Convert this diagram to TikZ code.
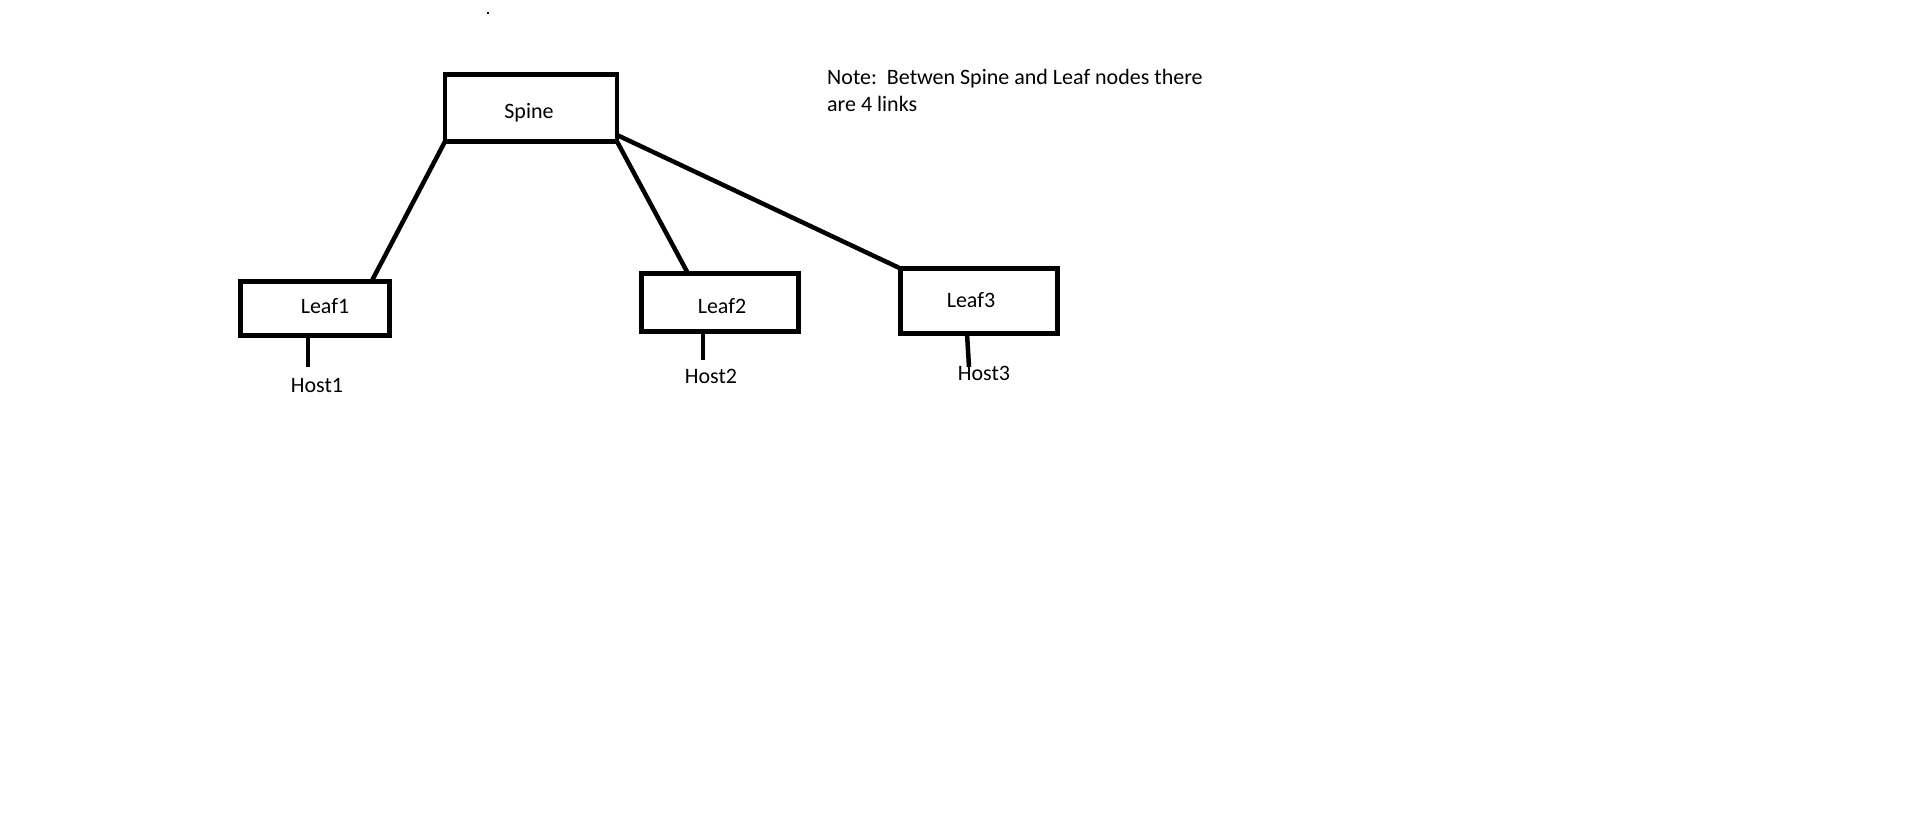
\documentclass[tikz,border=0pt]{standalone}
\usepackage{fontspec}
\setmainfont{Carlito}
\begin{document}
\begin{tikzpicture}[x=1pt,y=-1pt,
  box/.style={draw,line width=4.5pt,rectangle,inner sep=0pt,outer sep=0pt},
  link/.style={line width=4.5pt},
  lbl/.style={inner sep=0pt,font=\fontsize{22pt}{27pt}\selectfont}]
\useasboundingbox (0,0) rectangle (1913,821);
\fill[white] (0,0) rectangle (1913,821);
% boxes
\node[box,minimum width=172pt,minimum height=67pt] (spine) at (531,108) {};
\node[box,minimum width=149pt,minimum height=54pt] (leaf1) at (315,308.5) {};
\node[box,minimum width=157pt,minimum height=58pt] (leaf2) at (720,302.5) {};
\node[box,minimum width=157pt,minimum height=65pt] (leaf3) at (979,301) {};
% box labels
\node[lbl] (spinet) at (529,113) {Spine};
\node[lbl] (leaf1t) at (325,306) {Leaf1};
\node[lbl] (leaf2t) at (722,306) {Leaf2};
\node[lbl] (leaf3t) at (971,300) {Leaf3};
% host labels
\node[lbl] (host1) at (317,385) {Host1};
\node[lbl] (host2) at (711,376) {Host2};
\node[lbl] (host3) at (984,373) {Host3};
% stub ends
\coordinate (h1e) at (308,367);
\coordinate (h2e) at (703,360);
\coordinate (h3e) at (969,367);
% links
\draw[link] (spine.south west) -- ([xshift=-18pt]leaf1.north east);
\draw[link] (spine.south east) -- ([xshift=-32pt]leaf2.north);
\draw[link] ([yshift=6.5pt]spine.south east) -- (leaf3.north west);
\draw[link] ([xshift=-7pt]leaf1.south) -- (h1e);
\draw[link] ([xshift=-17pt]leaf2.south) -- (h2e);
\draw[link] ([xshift=-12pt]leaf3.south) -- (h3e);
% note
\node[lbl,anchor=base west] (note1) at (827,85) {Note:\ \ Betwen Spine and Leaf nodes there};
\node[lbl,anchor=base west] (note2) at (827,112) {are 4 links};
% stray dot
\fill (487,12) rectangle (489,14);
\end{tikzpicture}
\end{document}
